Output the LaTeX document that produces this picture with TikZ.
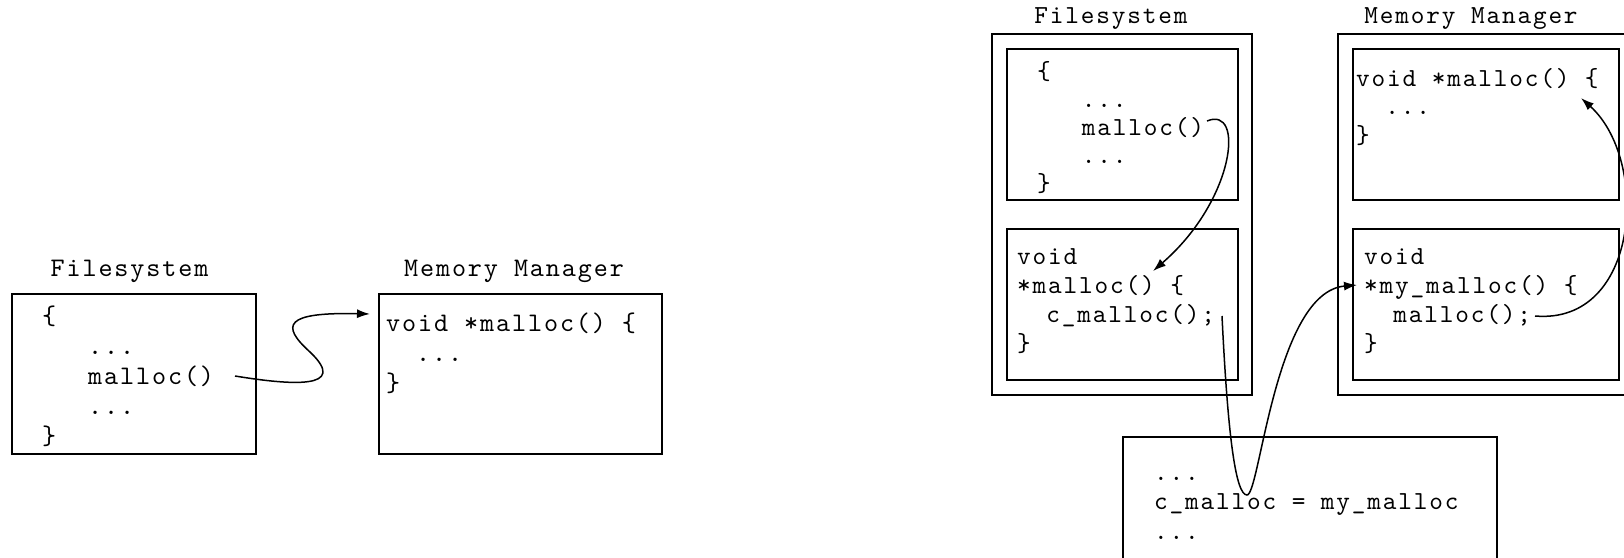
\documentclass[tikz,border=0pt]{standalone}
\usepackage{fontspec}
\usetikzlibrary{arrows.meta}
\newfontfamily\lmmono{lmmono10-regular}[Extension=.otf, LetterSpace=7.1]
\newcommand\dd{...}
\newcommand\codefont{\lmmono\fontsize{26}{29}\selectfont}
\newcommand\codefontL{\lmmono\fontsize{26.8}{30}\selectfont}
\newcommand\codeblock[6]{\foreach \t [count=\i from 0] in {#5} {\node[#6] (#1\i) at (#2, #3 + \i*#4) {\t};}}
\begin{document}
\begin{tikzpicture}[x=1pt,y=-1pt,
  code/.style={font=\codefont, inner sep=0pt, anchor=base west},
  codeL/.style={font=\codefontL, inner sep=0pt, anchor=base west},
  title/.style={font=\codefont, inner sep=0pt},
  titleL/.style={font=\codefontL, inner sep=0pt},
  box/.style={draw, line width=1.5pt, inner sep=0pt, anchor=north west, rectangle},
  link/.style={line width=1.5pt, -{Latex[length=13pt,width=9pt]}}]
\clip (0,0) rectangle (1624,557);
\fill[white] (0,0) rectangle (1624,557);
% left diagram
\node[box, minimum width=244pt, minimum height=160pt] (lfsbox) at (11.4,293) {};
\node[box, minimum width=283pt, minimum height=160pt] (lmmbox) at (378,293) {};
\node[titleL] (lfst) at (129.5,271) {Filesystem};
\node[titleL] (lmmt) at (514,271) {Memory Manager};
\codeblock{lfs}{42}{324}{30}{\{, \phantom{xxx}\dd, \phantom{xxx}malloc(), \phantom{xxx}\dd, \}}{codeL}
\codeblock{lmm}{386}{331}{30}{void *malloc() \{, \phantom{xx}\dd, \}}{codeL}
% right diagram
\node[box, minimum width=260pt, minimum height=361pt] (rfsout) at (991,33) {};
\node[box, minimum width=231pt, minimum height=151pt] (rfsin1) at (1006,48) {};
\node[box, minimum width=231pt, minimum height=151pt] (rfsin2) at (1006,228) {};
\node[box, minimum width=320pt, minimum height=361pt] (rmmout) at (1337,33) {};
\node[box, minimum width=266pt, minimum height=151pt] (rmmin1) at (1352,48) {};
\node[box, minimum width=266pt, minimum height=151pt] (rmmin2) at (1352,228) {};
\node[box, minimum width=374pt, minimum height=200pt] (regbox) at (1122,436) {};
\node[title] (rfst) at (1111,19) {Filesystem};
\node[title] (rmmt) at (1471,19) {Memory Manager};
\codeblock{rfst}{1037}{79}{28}{\{, \phantom{xxx}\dd, \phantom{xxx}malloc(), \phantom{xxx}\dd, \}}{code}
\codeblock{rfsb}{1017}{264}{29}{void, *malloc() \{, \phantom{xx}c\_malloc();, \}}{code}
\codeblock{rmmt}{1356}{86}{28.5}{void *malloc() \{, \phantom{xx}\dd, \}}{code}
\codeblock{rmmb}{1364}{264}{29}{void, *my\_malloc() \{, \phantom{xx}malloc();, \}}{code}
\codeblock{reg}{1154}{480}{29.5}{\dd, c\_malloc = my\_malloc, \dd}{code}
% connectors
\coordinate (a0) at (235,376); \coordinate (a1) at (370,314);
\coordinate (b0) at (1207,121); \coordinate (b1) at (1153,271);
\coordinate (c0) at (1222,316); \coordinate (c1) at (1357,285);
\coordinate (d0) at (1535,316); \coordinate (d1) at (1581,98);
\draw[link] (a0) .. controls (290,385) and (350,390) .. (310,352) .. controls (280,325) and (285,312) .. (a1);
\draw[link] (b0) .. controls (1245,105) and (1235,200) .. (b1);
\draw[link] (c0) .. controls (1228,440) and (1236,495) .. (1247,495) .. controls (1260,495) and (1275,292) .. (c1);
\draw[link] (d0) .. controls (1640,325) and (1650,160) .. (d1);
\end{tikzpicture}
\end{document}
